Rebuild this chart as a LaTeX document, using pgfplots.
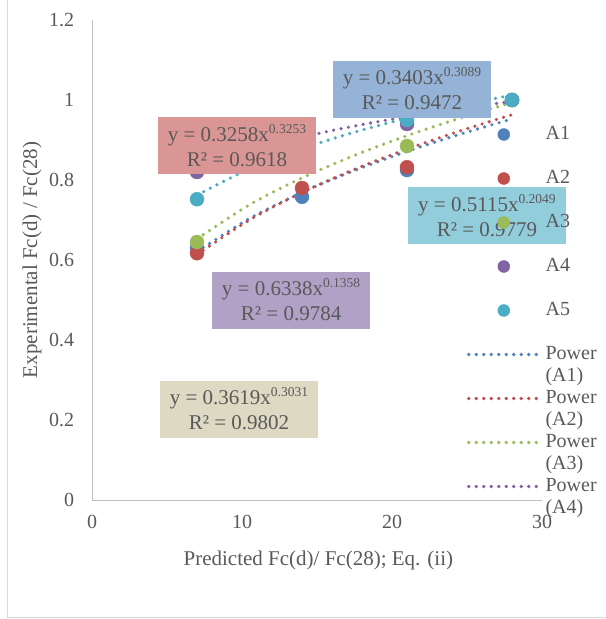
\documentclass[border=0pt]{standalone}
\usepackage{pgfplots}
\pgfplotsset{compat=1.18}
\usepackage{fontspec}
\setmainfont{Liberation Serif}
\definecolor{cA1}{HTML}{4F81BD}
\definecolor{cA2}{HTML}{C0504D}
\definecolor{cA3}{HTML}{9BBB59}
\definecolor{cA4}{HTML}{8064A2}
\definecolor{cA5}{HTML}{4BACC6}
\definecolor{txt}{HTML}{595959}
\definecolor{bxA1}{HTML}{95B3D7}
\definecolor{bxA2}{HTML}{D99694}
\definecolor{bxA3}{HTML}{DDD9C3}
\definecolor{bxA4}{HTML}{B2A1C7}
\definecolor{bxA5}{HTML}{92CDDC}
\newcommand{\sups}[1]{\raisebox{8bp}{\fontsize{13.5bp}{14bp}\selectfont #1}}
\pgfplotsset{
  scat/.style={only marks, mark=*, mark size=7bp, color=#1, mark options={fill=#1, draw=#1},
    legend image code/.code={\draw[mark repeat=2,mark phase=2,##1, mark size=6bp] plot coordinates {(0bp,0bp)(35bp,0bp)(70bp,0bp)};}},
  trend/.style={no marks, smooth, color=#1, line width=3.6bp, line cap=round, dash pattern=on 0bp off 7.5bp,
    legend image code/.code={\draw[##1] (0bp,0bp) -- (70bp,0bp);}},
  geom/.style={at={(92bp,-500bp)}, anchor=south west,
    scale only axis, width=450bp, height=480bp,
    xmin=0, xmax=30, ymin=0, ymax=1.2, clip=false},
}
\tikzset{
  lbl/.style={fill=#1, draw=none, minimum width=158bp, minimum height=57bp, inner sep=0pt, align=center, text=txt,
    font=\fontsize{21bp}{25bp}\selectfont},
}
\begin{document}
\fontsize{20bp}{22bp}\selectfont
\begin{tikzpicture}
\draw[black!15, line width=1bp] (7bp,0bp) -- (7bp,-617.5bp) -- (606bp,-617.5bp);
% axis with the data
\begin{axis}[
  geom,
  xtick={0,10,20,30}, ytick={0,0.2,0.4,0.6,0.8,1,1.2},
  axis lines=left, axis line style={-, black!25, line width=1bp},
  major tick length=0pt, tick style={draw=none},
  /pgf/number format/assume math mode=true,
  ticklabel style={font=\fontsize{20bp}{22bp}\selectfont, text=txt},
  yticklabel style={xshift=-11bp},
  xticklabel style={yshift=-8bp},
  xlabel={Predicted Fc(d)/ Fc(28); Eq. (ii)},
  ylabel={Experimental Fc(d) / Fc(28)},
  label style={text=txt, font=\fontsize{21bp}{23bp}\selectfont},
  xlabel style={at={(axis description cs:0.503,-0.125)}, anchor=center},
  ylabel style={at={(axis description cs:-0.133,0.5)}, anchor=center},
]
\addplot[scat=cA1] coordinates {(7,0.630) (14,0.758) (21,0.825) (28,1.000)};
\addplot[scat=cA2] coordinates {(7,0.617) (14,0.780) (21,0.832) (28,1.000)};
\addplot[scat=cA3] coordinates {(7,0.645) (14,0.835) (21,0.885) (28,1.000)};
\addplot[scat=cA4] coordinates {(7,0.820) (14,0.900) (21,0.940) (28,1.000)};
\addplot[scat=cA5] coordinates {(7,0.752) (14,0.890) (21,0.950) (28,1.000)};
% power trendlines (sampled values of the fitted curves)
\addplot[trend=cA1] coordinates {(7,0.6207) (10.5,0.7036) (14,0.7689) (17.5,0.8238) (21,0.8715) (24.5,0.9141) (28,0.9525)};
\addplot[trend=cA2] coordinates {(7,0.6136) (10.5,0.7001) (14,0.7688) (17.5,0.8267) (21,0.8771) (24.5,0.9222) (28,0.9632)};
\addplot[trend=cA3] coordinates {(7,0.6527) (10.5,0.7381) (14,0.8053) (17.5,0.8616) (21,0.9107) (24.5,0.9542) (28,0.9936)};
\addplot[trend=cA4] coordinates {(7,0.8255) (10.5,0.8722) (14,0.9070) (17.5,0.9349) (21,0.9583) (24.5,0.9786) (28,0.9965)};
\addplot[trend=cA5] coordinates {(7,0.7621) (10.5,0.8281) (14,0.8785) (17.5,0.9196) (21,0.9546) (24.5,0.9851) (28,1.0125)};
\end{axis}
% overlay axis: equation labels and legend above the data
\begin{axis}[
  geom, hide axis,
  legend cell align=left,
  legend style={at={(axis description cs:0.8333,0.78125)}, anchor=north west,
    draw=none, fill=none, inner sep=0pt, outer sep=0pt, row sep=25bp, column sep=5bp,
    nodes={inner sep=0pt, text height=14bp, text depth=5bp, text=txt, font=\fontsize{20bp}{22bp}\selectfont}},
]
\node[lbl=bxA2] at (axis cs:9.667,0.886) {y = 0.3258x\sups{0.3253}\\R² = 0.9618};
\node[lbl=bxA1] at (axis cs:21.33,1.0275) {y = 0.3403x\sups{0.3089}\\R² = 0.9472};
\node[lbl=bxA5] at (axis cs:26.33,0.711) {y = 0.5115x\sups{0.2049}\\R² = 0.9779};
\node[lbl=bxA4] at (axis cs:13.27,0.5) {y = 0.6338x\sups{0.1358}\\R² = 0.9784};
\node[lbl=bxA3] at (axis cs:9.8,0.2275) {y = 0.3619x\sups{0.3031}\\R² = 0.9802};
\addlegendimage{scat=cA1}\addlegendentry{A1}
\addlegendimage{scat=cA2}\addlegendentry{A2}
\addlegendimage{scat=cA3}\addlegendentry{A3}
\addlegendimage{scat=cA4}\addlegendentry{A4}
\addlegendimage{scat=cA5}\addlegendentry{A5}
\addlegendimage{trend=cA1}\addlegendentry{\smash{\begin{tabular}[t]{@{}l@{}}Power\\(A1)\end{tabular}}}
\addlegendimage{trend=cA2}\addlegendentry{\smash{\begin{tabular}[t]{@{}l@{}}Power\\(A2)\end{tabular}}}
\addlegendimage{trend=cA3}\addlegendentry{\smash{\begin{tabular}[t]{@{}l@{}}Power\\(A3)\end{tabular}}}
\addlegendimage{trend=cA4}\addlegendentry{\smash{\begin{tabular}[t]{@{}l@{}}Power\\(A4)\end{tabular}}}
\end{axis}
\pgfresetboundingbox
\useasboundingbox (0bp,0bp) rectangle (606bp,-619bp);
\end{tikzpicture}
\end{document}
